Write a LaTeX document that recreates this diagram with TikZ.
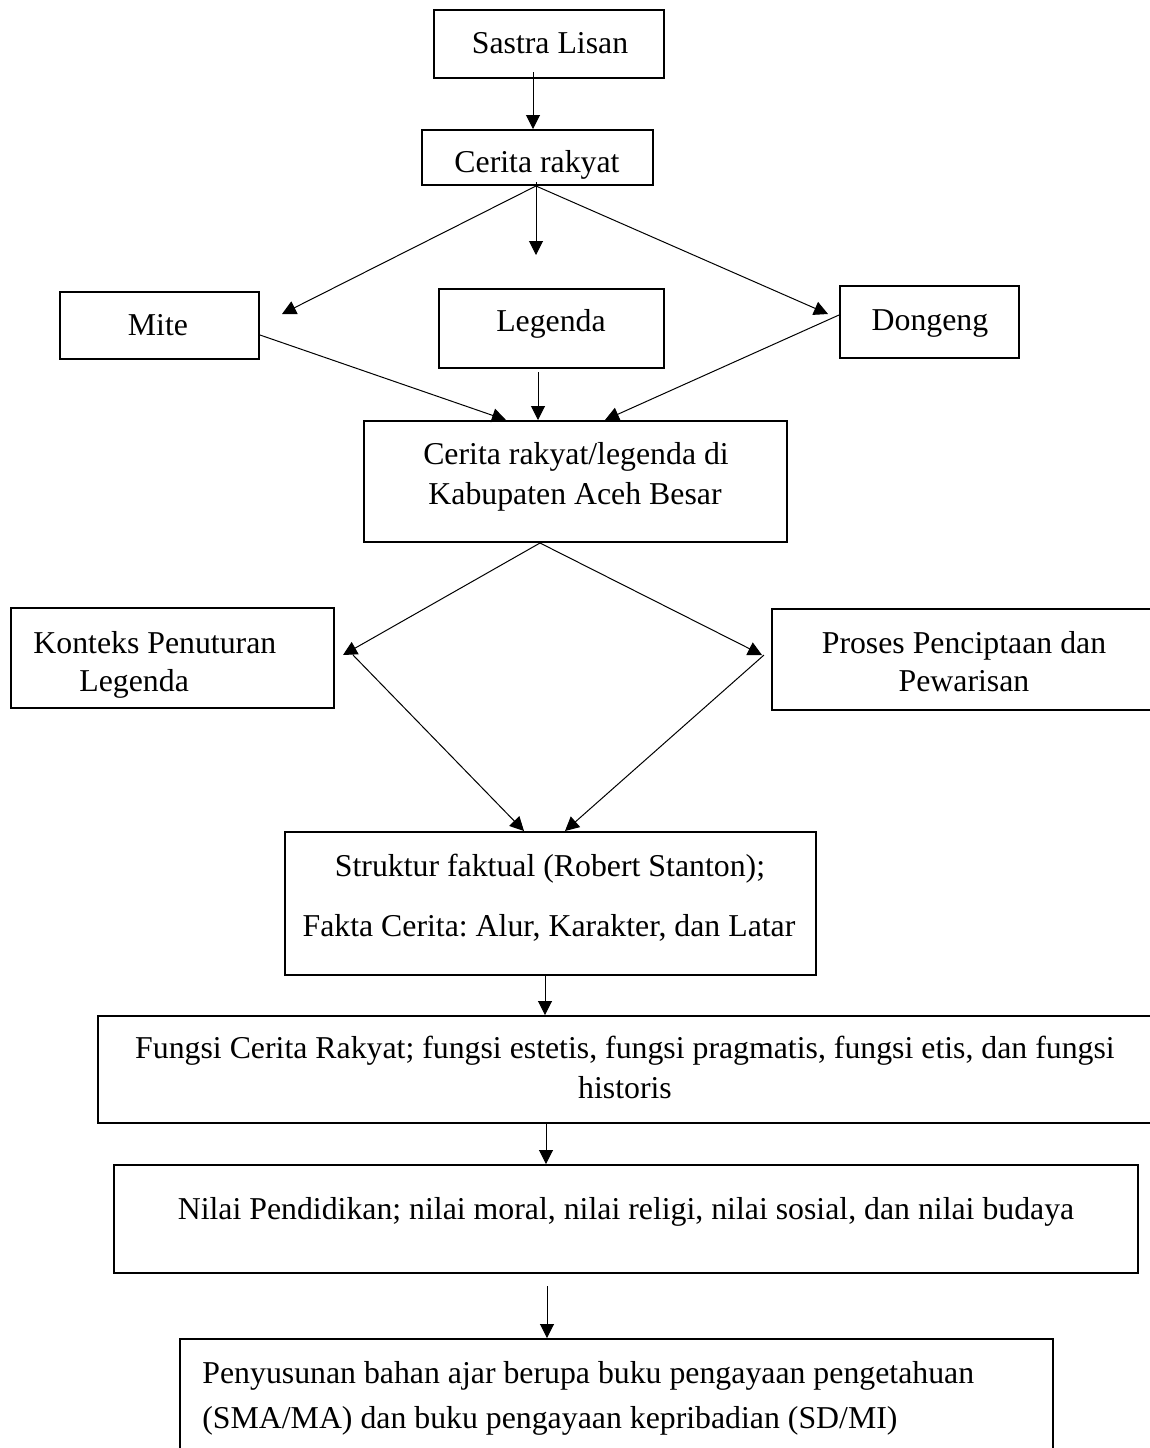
\documentclass[tikz,border=0pt]{standalone}
\usepackage{fontspec}
\setmainfont{Liberation Serif}
\usetikzlibrary{arrows.meta,calc,fit}
\frenchspacing
\begin{document}
\begin{tikzpicture}[x=0.5pt,y=-0.5pt,
  box/.style={draw=black,line width=1pt,inner sep=0pt,rectangle},
  txt/.style={inner sep=0pt,font=\fontsize{15.9pt}{19pt}\selectfont},
  arr/.style={draw=black,line width=0.5pt,-{Triangle[length=7pt,width=7pt]}}]
\useasboundingbox (0,0) rectangle (1150,1448);
\clip (0,0) rectangle (1150,1448);
\fill[white] (0,0) rectangle (1150,1448);
% boxes
\node[box,fit={(434,10) (664,78)}] (sastra) {};
\node[box,fit={(422,130) (653,185)}] (cerita) {};
\node[box,fit={(60,292) (259,359)}] (mite) {};
\node[box,fit={(439,289) (664,368)}] (legenda) {};
\node[box,fit={(840,286) (1019,358)}] (dongeng) {};
\node[box,fit={(364,421) (787,542)}] (aceh) {};
\node[box,fit={(11,608) (334,708)}] (konteks) {};
\node[box,fit={(772,609) (1158,710)}] (proses) {};
\node[box,fit={(285,832) (816,975)}] (struktur) {};
\node[box,fit={(98,1016) (1155,1123)}] (fungsi) {};
\node[box,fit={(114,1165) (1138,1273)}] (nilai) {};
\node[box,fit={(180,1339) (1053,1456)}] (peny) {};
% texts
\node[txt,anchor=base] (tsastra) at (550,53) {Sastra Lisan};
\node[txt,anchor=base] (tcerita) at (537,172) {Cerita rakyat};
\node[txt,anchor=base] (tmite) at (158,335) {Mite};
\node[txt,anchor=base] (tlegenda) at (551,331) {Legenda};
\node[txt,anchor=base] (tdongeng) at (930,330) {Dongeng};
\node[txt,anchor=base] (taceha) at (576,464) {Cerita rakyat/legenda di};
\node[txt,anchor=base] (tacehb) at (575,504) {Kabupaten Aceh Besar};
\node[txt,anchor=base west] (tkontekska) at (33,653) {Konteks Penuturan};
\node[txt,anchor=base west] (tkonteksb) at (79,691) {Legenda};
\node[txt,anchor=base] (tprosesa) at (964,653) {Proses Penciptaan dan};
\node[txt,anchor=base] (tprosesb) at (964,691) {Pewarisan};
\node[txt,anchor=base] (tstrukturra) at (550,876) {Struktur faktual (Robert Stanton);};
\node[txt,anchor=base] (tstrukturb) at (549,936) {Fakta Cerita: Alur, Karakter, dan Latar};
\node[txt,anchor=base] (tfungsia) at (625,1058) {Fungsi Cerita Rakyat; fungsi estetis, fungsi pragmatis, fungsi etis, dan fungsi};
\node[txt,anchor=base] (tfungsib) at (625,1098) {historis};
\node[txt,anchor=base] (tnilai) at (626,1219) {Nilai Pendidikan; nilai moral, nilai religi, nilai sosial, dan nilai budaya};
\node[txt,anchor=base west] (tpenya) at (202,1383) {Penyusunan bahan ajar berupa buku pengayaan pengetahuan};
\node[txt,anchor=base west] (tpenyb) at (202,1428) {(SMA/MA) dan buku pengayaan kepribadian (SD/MI)};
% connectors
\draw[arr] ($(sastra.south)+(-16,-7)$) -- ($(cerita.north)+(-4.5,0)$);
\draw[arr] ($(cerita.south)+(-1.5,0)$) -- ($(mite.north east)+(22,23)$);
\draw[arr] ($(cerita.south)+(-1.5,-4)$) -- ($(legenda.north)+(-15.5,-33)$);
\draw[arr] ($(cerita.south)+(-1.5,0)$) -- ($(dongeng.north west)+(-11,29)$);
\draw[arr] ($(mite.east)+(0,9.5)$) -- ($(aceh.north)+(-69.5,0)$);
\draw[arr] ($(legenda.south)+(-13.5,3)$) -- ($(aceh.north)+(-37.5,0)$);
\draw[arr] ($(dongeng.west)+(0,-7)$) -- ($(aceh.north)+(29.5,0)$);
\draw[arr] ($(aceh.south)+(-35.5,0)$) -- ($(konteks.east)+(8,-3)$);
\draw[arr] ($(aceh.south)+(-35.5,0)$) -- ($(proses.west)+(-9,-4.5)$);
\draw[arr] ($(konteks.east)+(18,-3)$) -- ($(struktur.north)+(-26.5,0)$);
\draw[arr] ($(proses.west)+(-7,-4.5)$) -- ($(struktur.north)+(14.5,0)$);
\draw[arr] ($(struktur.south)+(-5.5,0)$) -- ($(fungsi.north)+(-81.5,0)$);
\draw[arr] ($(fungsi.south)+(-80.5,0)$) -- ($(nilai.north)+(-80,0)$);
\draw[arr] ($(nilai.south)+(-79,12)$) -- ($(peny.north)+(-69.5,0)$);
\end{tikzpicture}
\end{document}
